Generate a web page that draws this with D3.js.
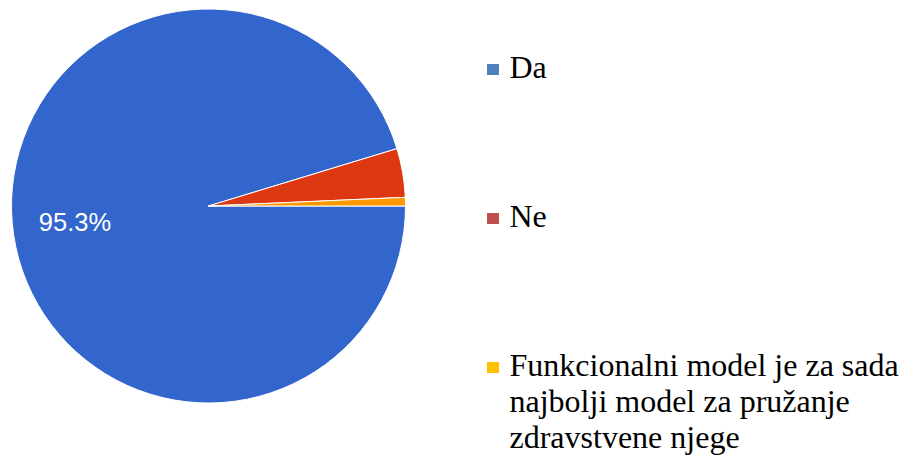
<!DOCTYPE html>
<html>
<head>
<meta charset="utf-8">
<script src="https://cdn.jsdelivr.net/npm/d3@7"></script>
</head>
<body style="margin:0">
<svg id="chart" width="904" height="460"></svg>
<script>
const categories = ["Da", "Ne", "Funkcionalni model je za sada najbolji model za pružanje zdravstvene njege"];
const legendLines = [["Da"], ["Ne"], ["Funkcionalni model je za sada", "najbolji model za pružanje", "zdravstvene njege"]];
const values = [95.3, 4.0, 0.7];
const sliceColors = ["#3366cc", "#dc3912", "#ff9900"];
const legendColors = ["#4f81bd", "#c0504d", "#ffc000"];

const svg = d3.select("#chart");
const cx = 208.5, cy = 206, r = 197;

const pie = d3.pie().sort(null).value(d => d)
  .startAngle(Math.PI / 2).endAngle(Math.PI / 2 + 2 * Math.PI);
const arcs = pie(values);
const arc = d3.arc().innerRadius(0).outerRadius(r);
const labelArc = d3.arc().innerRadius(r * 0.685).outerRadius(r * 0.685);

svg.selectAll("path.slice").data(arcs).join("path")
  .attr("class", "slice")
  .attr("transform", `translate(${cx},${cy})`)
  .attr("d", arc)
  .attr("fill", (d, i) => sliceColors[i])
  .attr("stroke", "#fff")
  .attr("stroke-width", 1);

arcs.filter(d => d.data >= 5).forEach(d => {
  const [lx, ly] = labelArc.centroid(d);
  svg.append("text")
    .attr("x", cx + lx).attr("y", cy + ly + 5.5)
    .attr("text-anchor", "middle")
    .attr("fill", "#fff")
    .style("font-family", '"Liberation Sans"')
    .style("font-size", "25.5px")
    .text(d.data.toFixed(1) + "%");
});

// Legend
const legendY = d3.scalePoint().domain(categories).range([78, 376]);
categories.forEach((c, i) => {
  const y = legendY(c);
  svg.append("rect")
    .attr("x", 487).attr("y", y - 14)
    .attr("width", 12).attr("height", 11)
    .attr("fill", legendColors[i]);
  legendLines[i].forEach((line, j) => {
    svg.append("text")
      .attr("x", 509.5).attr("y", y + j * 36)
      .attr("fill", "#000")
      .style("font-family", '"Liberation Serif"')
      .style("font-size", "32px")
      .text(line);
  });
});
</script>
</body>
</html>
